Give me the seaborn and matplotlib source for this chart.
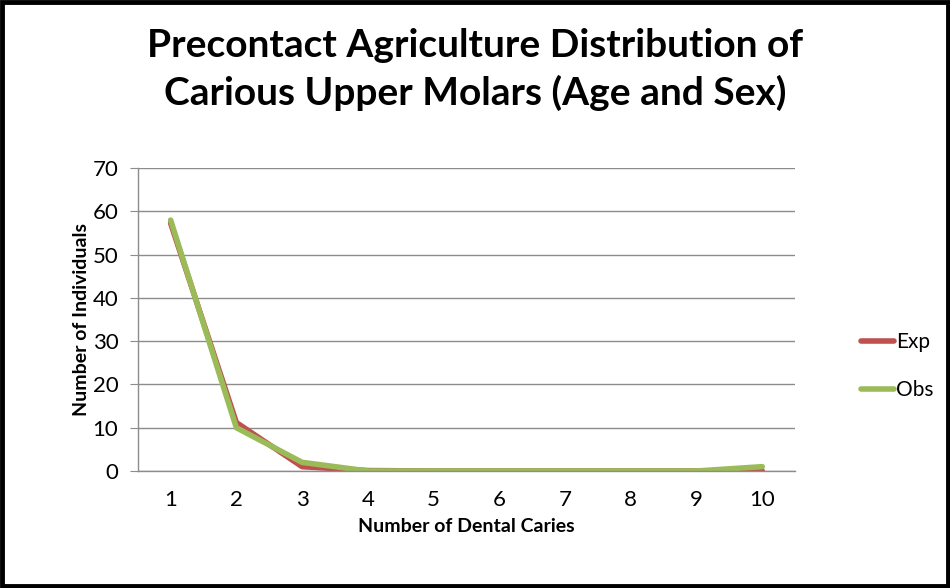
import pandas as pd
import matplotlib.pyplot as plt
import seaborn as sns

# Data
caries = [1, 2, 3, 4, 5, 6, 7, 8, 9, 10]
exp_vals = [57.3, 11.2, 1.0, 0.1, 0, 0, 0, 0, 0, 0]
obs_vals = [58, 10, 2, 0, 0, 0, 0, 0, 0, 1]

df = pd.DataFrame({
    "caries": caries * 2,
    "count": exp_vals + obs_vals,
    "series": ["Exp"] * len(caries) + ["Obs"] * len(caries),
})

sns.set_style("white")
plt.rcParams["font.family"] = ["Lato", "DejaVu Sans"]
plt.rcParams["text.color"] = "black"
plt.rcParams["axes.labelcolor"] = "black"
plt.rcParams["xtick.color"] = "black"
plt.rcParams["ytick.color"] = "black"

fig = plt.figure(figsize=(9.5, 5.88), dpi=100)
ax = fig.add_axes([0.145, 0.199, 0.692, 0.515])

sns.lineplot(data=df, x="caries", y="count", hue="series",
             palette={"Exp": "#c0504d", "Obs": "#9bbb59"},
             linewidth=4, solid_capstyle="round", ax=ax)

ax.set_xlim(0.5, 10.5)
ax.set_ylim(0, 70)
ax.set_yticks(range(0, 71, 10))
ax.set_xticks(caries)
ax.yaxis.grid(True, color="#8c8c8c", linewidth=1)
ax.set_axisbelow(True)
for s in ["top", "right"]:
    ax.spines[s].set_visible(False)
for s in ["left", "bottom"]:
    ax.spines[s].set_color("#8c8c8c")
    ax.spines[s].set_linewidth(1)
ax.tick_params(axis="y", left=True, length=6, color="#8c8c8c", labelcolor="black",
               labelsize=16, pad=8)
ax.tick_params(axis="x", bottom=False, labelsize=16, pad=10)

ax.set_xlabel("Number of Dental Caries", fontsize=14, fontweight="bold", labelpad=6)
ax.set_ylabel("Number of Individuals", fontsize=14, fontweight="bold", labelpad=2)

fig.suptitle("Precontact Agriculture Distribution of\nCarious Upper Molars (Age and Sex)",
             fontsize=28, fontweight="bold", y=0.952, linespacing=1.4)

leg = ax.legend(loc="center left", bbox_to_anchor=(1.1, 0.347), frameon=False,
                fontsize=15, handlelength=1.6, labelspacing=1.35, handletextpad=0.1,
                borderaxespad=0, borderpad=0)
for line in leg.get_lines():
    line.set_linewidth(4)

# black border around the figure
fig.patches.append(plt.Rectangle((0.002, 0.003), 0.996, 0.994, transform=fig.transFigure,
                                 fill=False, edgecolor="black", linewidth=3.5))

plt.savefig("out.png", dpi=100)
